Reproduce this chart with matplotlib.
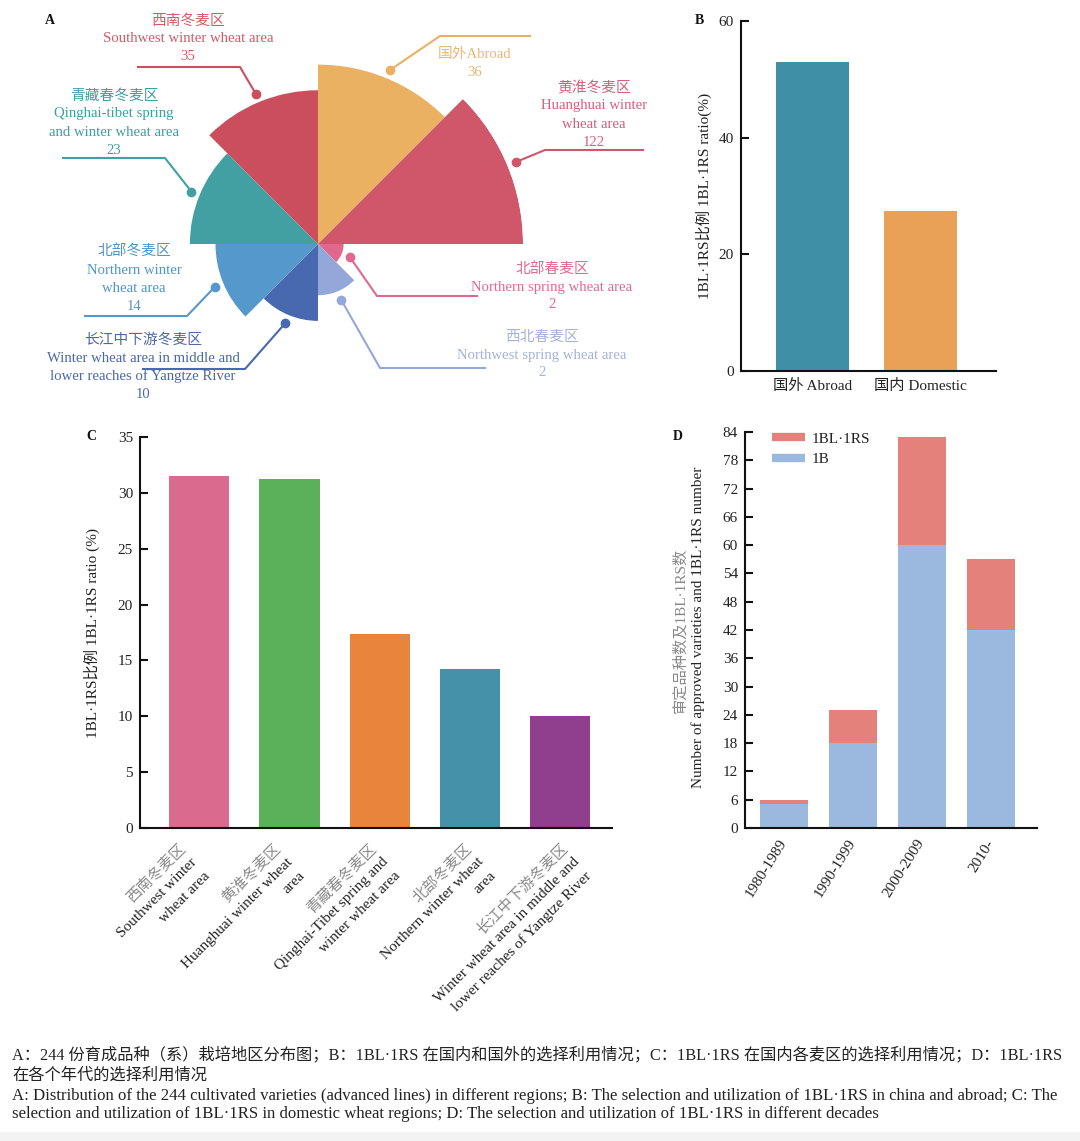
import numpy as np
import matplotlib
matplotlib.use('Agg')
import matplotlib.pyplot as plt
from matplotlib.lines import Line2D
from matplotlib.patches import Rectangle

plt.rcParams['font.family'] = ['Liberation Serif', 'Noto Sans CJK SC']
plt.rcParams['axes.unicode_minus'] = False

W, H = 1080, 1141
DPI = 100

# ---------------- Data ----------------
# Panel A: regions clockwise from top
a_labels = ['国外Abroad',
            '黄淮冬麦区\nHuanghuai winter\nwheat area',
            '北部春麦区\nNorthern spring wheat area',
            '西北春麦区\nNorthwest spring wheat area',
            '长江中下游冬麦区\nWinter wheat area in middle and\nlower reaches of Yangtze River',
            '北部冬麦区\nNorthern winter\nwheat area',
            '青藏春冬麦区\nQinghai-tibet spring\nand winter wheat area',
            '西南冬麦区\nSouthwest winter wheat area']
a_counts = [36, 122, 2, 2, 10, 14, 23, 35]
a_colors = ['#EAB162', '#D0566A', '#E0688C', '#93A8D8', '#4868B0', '#5598CC', '#42A0A2', '#CB4E5C']
a_textcolors = ['#E6B877', '#D65F7C', '#E06A90', '#A6B2DA', '#4A68AC', '#5096C8', '#3DA0A0', '#D45A6A']

# Panel B
b_cats = ['国外 Abroad', '国内 Domestic']
b_vals = [53.0, 27.4]
b_colors = ['#3F8FA6', '#E9A157']

# Panel C
c_cn = ['西南冬麦区', '黄淮冬麦区', '青藏春冬麦区', '北部冬麦区', '长江中下游冬麦区']
c_en = ['Southwest winter\nwheat area',
        'Huanghuai winter wheat\narea',
        'Qinghai-Tibet spring and\nwinter wheat area',
        'Northern winter wheat\narea',
        'Winter wheat area in middle and\nlower reaches of Yangtze River']
c_vals = [31.5, 31.2, 17.4, 14.2, 10.0]
c_colors = ['#DB6A8F', '#5BB05A', '#E8843B', '#4591A9', '#8F3F8E']

# Panel D
d_cats = ['1980-1989', '1990-1999', '2000-2009', '2010-']
d_1b = [5, 18, 60, 42]
d_1brs = [1, 7, 23, 15]
d_col_1b = '#9BB9DF'
d_col_rs = '#E5817B'

caption_cn = ['A：244 份育成品种（系）栽培地区分布图；B：1BL·1RS 在国内和国外的选择利用情况；C：1BL·1RS 在国内各麦区的选择利用情况；D：1BL·1RS',
              '在各个年代的选择利用情况']
caption_en = ['A: Distribution of the 244 cultivated varieties (advanced lines) in different regions; B: The selection and utilization of 1BL·1RS in china and abroad; C: The',
              'selection and utilization of 1BL·1RS in domestic wheat regions; D: The selection and utilization of 1BL·1RS in different decades']

# ---------------- Helpers ----------------
fig = plt.figure(figsize=(W / DPI, H / DPI), dpi=DPI)
fig.patch.set_facecolor('white')


def box(l, t, r, b):
    return [l / W, 1 - b / H, (r - l) / W, (b - t) / H]


def to_px(ax, pt):
    x, y = ax.transData.transform([pt])[0]
    return x, H - y


def style_axes(ax):
    for s in ['top', 'right']:
        ax.spines[s].set_visible(False)
    for s in ['left', 'bottom']:
        ax.spines[s].set_linewidth(1.5)
        ax.spines[s].set_color('#111111')
    ax.tick_params(axis='y', direction='in', length=6, width=1.5, labelsize=11,
                   pad=5, color='#111111', labelcolor='#222222')
    ax.tick_params(axis='x', length=0, labelsize=11, pad=6, labelcolor='#222222')


# ---------------- Panel A (rose) ----------------
ax_a = fig.add_axes(box(113, 39, 523, 449), projection='polar')
ax_a.set_theta_zero_location('N')
ax_a.set_theta_direction(-1)
n = len(a_counts)
rank = np.empty(n)
rank[np.argsort(a_counts, kind='stable')] = np.arange(1, n + 1)
theta = np.arange(n) * 2 * np.pi / n
ax_a.bar(theta, rank, width=2 * np.pi / n, align='edge', color=a_colors, linewidth=0)
ax_a.set_ylim(0, n)
ax_a.axis('off')

# ---------------- Panel B ----------------
ax_b = fig.add_axes(box(741, 21, 996, 371))
xb = np.arange(len(b_vals))
ax_b.bar(xb, b_vals, width=0.68, color=b_colors)
ax_b.set_xlim(-0.66, 1.70)
ax_b.set_ylim(0, 60)
ax_b.set_yticks([0, 20, 40, 60])
ax_b.set_xticks(xb, b_cats)
style_axes(ax_b)
ax_b.set_ylabel('1BL·1RS比例 1BL·1RS ratio(%)', fontsize=11, color='#222222')
ax_b.yaxis.set_label_coords((712 - 741) / 255, 0.5)

# ---------------- Panel C ----------------
ax_c = fig.add_axes(box(140, 437, 612, 828))
xc = np.arange(len(c_vals))
ax_c.bar(xc, c_vals, width=0.667, color=c_colors)
ax_c.set_xlim(-0.66, 4.58)
ax_c.set_ylim(0, 35)
ax_c.set_yticks(np.arange(0, 36, 5))
ax_c.set_xticks(xc, [''] * len(xc))
style_axes(ax_c)
ax_c.set_ylabel('1BL·1RS比例 1BL·1RS ratio (%)', fontsize=11, color='#222222')
ax_c.yaxis.set_label_coords((100 - 140) / 472, 0.5)

# ---------------- Panel D ----------------
ax_d = fig.add_axes(box(745, 432, 1037, 828))
xd = np.arange(len(d_cats))
ax_d.bar(xd, d_1b, width=0.70, color=d_col_1b, label='1B')
ax_d.bar(xd, d_1brs, width=0.70, bottom=d_1b, color=d_col_rs, label='1BL·1RS')
ax_d.set_xlim(-0.565, 3.67)
ax_d.set_ylim(0, 84)
ax_d.set_yticks(np.arange(0, 85, 6))
ax_d.set_xticks(xd, d_cats)
style_axes(ax_d)
ax_d.tick_params(axis='x', pad=9)
for lab in ax_d.get_xticklabels():
    lab.set_rotation(58)
    lab.set_ha('right')
    lab.set_va('center')
    lab.set_rotation_mode('anchor')
handles = [Line2D([], [], color=d_col_rs, lw=6, solid_capstyle='butt'),
           Line2D([], [], color=d_col_1b, lw=6, solid_capstyle='butt')]
ax_d.legend(handles, ['1BL·1RS', '1B'], loc='upper left',
            bbox_to_anchor=((772 - 745) / 292, 1.0), frameon=False, fontsize=11,
            handlelength=2.15, handletextpad=0.45, labelspacing=0.45,
            borderpad=0, borderaxespad=0, labelcolor='#222222')

# ---------------- Overlay (annotations) ----------------
ov = fig.add_axes([0, 0, 1, 1])
ov.set_xlim(0, W)
ov.set_ylim(H, 0)
ov.axis('off')
ov.patch.set_visible(False)

# Panel A labels and leaders
a_text_pos = [(475, 54), (594, 88), (552, 269), (542, 337),
              (143, 340), (134, 252), (114, 96), (188, 21)]
a_elbows = [((440, 36), (530, 36)), ((545, 150), (643, 150)),
            ((377, 296), (477, 296)), ((380, 368), (485, 368)),
            ((245, 369), (143, 369)), ((187, 316), (85, 316)),
            ((165, 158), (63, 158)), ((240, 67), (138, 67))]
for i in range(n):
    mid = theta[i] + np.pi / n
    dx, dy = to_px(ax_a, (mid, rank[i] + 0.35))
    (ex, ey), (fx, fy) = a_elbows[i]
    ov.plot([dx, ex, fx], [dy, ey, fy], color=a_colors[i], lw=1.5,
            solid_joinstyle='round')
    ov.plot([dx], [dy], 'o', color=a_colors[i], ms=7, mec='none')
    lines = a_labels[i].split('\n') + [str(a_counts[i])]
    tx, ty = a_text_pos[i]
    for k, s in enumerate(lines):
        ov.text(tx, ty + 18 * k, s, ha='center', va='center', fontsize=10.6,
                color=a_textcolors[i])

# Panel C rotated two-colour tick labels
for i in range(len(c_vals)):
    px, py = to_px(ax_c, (xc[i], 0))
    lines = [(c_cn[i], '#8A8A8A')] + [(s, '#222222') for s in c_en[i].split('\n')]
    for k, (s, col) in enumerate(lines):
        ox = -17 + 5.5 * i + 12.5 * k
        oy = 18 + 14 * k
        ov.text(px + ox, py + oy, s, rotation=45, rotation_mode='anchor',
                ha='right', va='center', fontsize=11, color=col)

# Panel D y labels (two colours)
ov.text(680, 630, '审定品种数及1BL·1RS数', rotation=90, ha='center', va='center',
        fontsize=11, color='#8A8A8A')
ov.text(698, 627, 'Number of approved varieties and 1BL·1RS number', rotation=90,
        ha='center', va='center', fontsize=11, color='#222222')

# Panel letters
for letter, (lx, ly) in zip(['A', 'B', 'C', 'D'], [(50, 21), (699, 21), (91, 436), (678, 436)]):
    ov.text(lx, ly, letter, ha='center', va='center', fontsize=10,
            fontweight='bold', color='#111111')

# Caption
for s, y in zip(caption_cn, [1055, 1076]):
    ov.text(12, y, s, ha='left', va='center', fontsize=11.7, color='#222222')
for s, y in zip(caption_en, [1096, 1114]):
    ov.text(12, y, s, ha='left', va='center', fontsize=12.1, color='#222222')

ov.add_patch(Rectangle((0, 1132), W, 9, color='#F3F3F3', lw=0))

fig.savefig('out.png', dpi=DPI)
